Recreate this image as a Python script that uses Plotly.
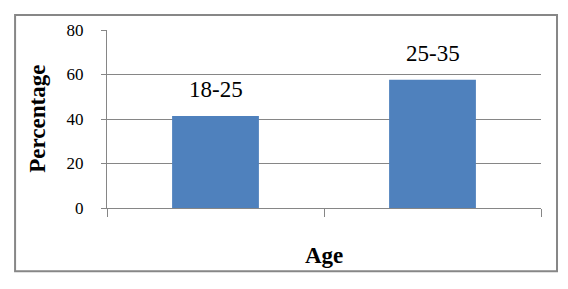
import plotly.graph_objects as go

categories = ["18-25", "25-35"]
values = [41.4, 57.6]
y_ticks = [0, 20, 40, 60, 80]
x_title = "Age"
y_title = "Percentage"

BAR = "#4F81BD"
GRID = "#868686"
SERIF = "Liberation Serif"

fig = go.Figure()
fig.add_trace(go.Bar(x=categories, y=values, marker=dict(color=BAR, line=dict(width=0)),
                     hoverinfo="skip"))

for c, v in zip(categories, values):
    fig.add_annotation(x=c, y=v, xref="x", yref="y", text=c, showarrow=False,
                       yanchor="bottom", yshift=12,
                       font=dict(family=SERIF, size=23, color="black"))

fig.add_annotation(x=-0.162, y=0.5, xref="paper", yref="paper", text="<b>%s</b>" % y_title,
                   textangle=-90, showarrow=False, xanchor="center", yanchor="middle",
                   font=dict(family=SERIF, size=23, color="black"))
fig.add_annotation(x=0.5, y=-0.265, xref="paper", yref="paper", text="<b>%s</b>" % x_title,
                   showarrow=False, xanchor="center", yanchor="middle",
                   font=dict(family=SERIF, size=23, color="black"))

# outer chart border
fig.add_shape(type="rect", xref="paper", yref="paper",
              x0=-0.2118, x1=1.0369, y0=-0.3556, y1=1.084,
              line=dict(color="#878787", width=2), fillcolor="rgba(0,0,0,0)")

fig.update_layout(
    width=552, height=273,
    margin=dict(l=99, r=19, t=22, b=73, pad=0),
    paper_bgcolor="white", plot_bgcolor="white",
    bargap=0.6, showlegend=False,
    font=dict(family=SERIF, color="black"),
)
fig.update_xaxes(type="category", showticklabels=False, showline=True, linecolor=GRID,
                 linewidth=1, ticks="outside", ticklen=8, tickcolor=GRID, tickwidth=1,
                 tickson="boundaries", showgrid=False, zeroline=False, fixedrange=True)
fig.update_yaxes(range=[0, 80], tickvals=y_ticks, showline=True, linecolor=GRID, linewidth=1,
                 ticks="outside", ticklen=5, tickcolor=GRID, tickwidth=1,
                 showgrid=True, gridcolor=GRID, gridwidth=1, zeroline=False,
                 tickfont=dict(family=SERIF, size=17, color="black"),
                 ticklabelstandoff=14, fixedrange=True)

fig.write_html("out.html", config=dict(displayModeBar=False))
